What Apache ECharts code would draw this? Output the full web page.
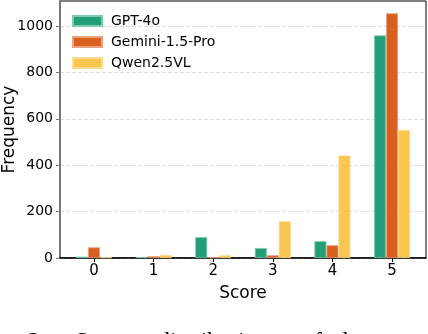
<!DOCTYPE html>
<html>
<head>
<meta charset="utf-8">
<script src="https://cdn.jsdelivr.net/npm/echarts@6/dist/echarts.min.js"></script>
<style>
html,body{margin:0;padding:0;background:#fff;}
#chart{width:428px;height:334px;}
</style>
</head>
<body>
<div id="chart"></div>
<script>
// scores on the x axis
const scores = [0, 1, 2, 3, 4, 5]
const yTicks = [0, 200, 400, 600, 800, 1000]
// frequencies per score
const gpt4o = [6, 4, 90, 43, 73, 960]
const gemini = [46, 8, 3, 12, 55, 1055]
const qwen = [3, 13, 12, 158, 442, 552]

const seriesNames = ['GPT-4o', 'Gemini-1.5-Pro', 'Qwen2.5VL']
const colors = ['#249e79', '#d95f1e', '#f9c74f']
const edges = ['#7fcbb2', '#eba37e', '#fbdb94']

const font = 'DejaVu Sans'

let chart = echarts.init(document.getElementById('chart'))

function makeSeries(name, vals, i) {
  return {
    name: name,
    type: 'bar',
    barWidth: 12,
    barGap: '0%',
    data: scores.map((s, k) => [s, vals[k]]),
    itemStyle: { color: colors[i], borderColor: edges[i], borderWidth: 0.8 },
    emphasis: { disabled: true }
  }
}

let options = {
  animation: false,
  textStyle: { fontFamily: font },
  grid: {
    left: 60, right: 2, top: 1, bottom: 76,
    outerBoundsMode: 'none',
    containLabel: false,
    show: true, borderColor: '#000', borderWidth: 1, backgroundColor: 'transparent'
  },
  legend: {
    orient: 'vertical',
    left: 67, top: 9,
    itemWidth: 29, itemHeight: 10, itemGap: 7,
    icon: 'rect',
    textStyle: { fontFamily: font, fontSize: 14, color: '#000', padding: [0, 0, 0, 4] },
    data: seriesNames
  },
  xAxis: {
    type: 'value',
    min: -0.57, max: 5.57,
    name: 'Score',
    nameLocation: 'middle',
    nameGap: 27,
    nameMoveOverlap: false,
    nameTextStyle: { fontFamily: font, fontSize: 17, color: '#000' },
    axisLine: { show: true, onZero: false, lineStyle: { color: '#000', width: 1.5 } },
    axisTick: { show: true, customValues: scores, length: 4, lineStyle: { color: '#000' } },
    axisLabel: { customValues: scores, fontFamily: font, fontSize: 15, color: '#000', margin: 6 },
    splitLine: { show: false }
  },
  yAxis: {
    type: 'value',
    min: 0, max: 1108,
    name: 'Frequency',
    nameLocation: 'middle',
    nameGap: 42,
    nameMoveOverlap: false,
    nameTextStyle: { fontFamily: font, fontSize: 17, color: '#000' },
    axisLine: { show: true, onZero: false, lineStyle: { color: '#777', width: 2 } },
    axisTick: { show: true, customValues: yTicks, length: 4, lineStyle: { color: '#777' } },
    axisLabel: { customValues: yTicks, formatter: v => String(v), fontFamily: font, fontSize: 14, color: '#000', margin: 7 },
    splitLine: { show: true, lineStyle: { color: '#ddd', type: [4, 2], width: 1 } }
  },
  graphic: [
    { type: 'text', left: 28, top: 330, style: { text: '2', font: '24px "Liberation Serif"', fill: '#000' } },
    { type: 'text', left: 75, top: 330, style: { text: 'Score', font: '24px "Liberation Serif"', fill: '#000' } },
    { type: 'text', left: 158, top: 330, style: { text: 'distributions', font: '24px "Liberation Serif"', fill: '#000' } },
    { type: 'text', left: 302, top: 330, style: { text: 'of', font: '24px "Liberation Serif"', fill: '#000' } },
    { type: 'text', left: 336, top: 330, style: { text: 'the', font: '24px "Liberation Serif"', fill: '#000' } }
  ],
  series: [
    makeSeries(seriesNames[0], gpt4o, 0),
    makeSeries(seriesNames[1], gemini, 1),
    makeSeries(seriesNames[2], qwen, 2)
  ]
}
chart.setOption(options)
</script>
</body>
</html>
